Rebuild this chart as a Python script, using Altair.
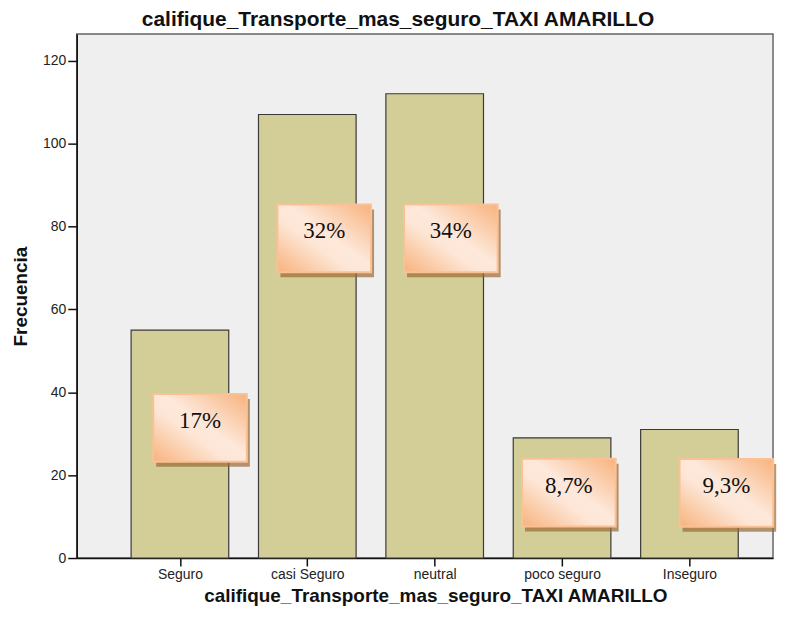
import altair as alt
import pandas as pd

categorias = ["Seguro", "casi Seguro", "neutral", "poco seguro", "Inseguro"]
posiciones = [1, 2, 3, 4, 5]
frecuencias = [55, 107, 112, 29, 31]
porcentajes = ["17%", "32%", "34%", "8,7%", "9,3%"]
etiqueta_x = [1.158, 2.133, 3.127, 4.053, 5.290]
etiqueta_y = [31.4, 77.1, 77.1, 15.8, 15.7]

titulo = "califique_Transporte_mas_seguro_TAXI AMARILLO"

df = pd.DataFrame({
    "cat": categorias,
    "pos": posiciones,
    "freq": frecuencias,
    "pct": porcentajes,
    "lx": etiqueta_x,
    "ly": etiqueta_y,
})

label_expr = "[" + ",".join("'" + c + "'" for c in categorias) + "][datum.value - 1]"

xscale = alt.Scale(domain=[0.229, 5.617], nice=False, zero=False)
yscale = alt.Scale(domain=[0, 126.4], nice=False)

base = alt.Chart(df)

bars = base.mark_bar(orient="vertical", width=98, color="#d3ce97",
                     stroke="#3a3a3a", strokeWidth=1.2).encode(
    x=alt.X("pos:Q", scale=xscale,
            axis=alt.Axis(values=posiciones, labelExpr=label_expr,
                          title=titulo, titleX=360)),
    y=alt.Y("freq:Q", scale=yscale,
            axis=alt.Axis(values=[0, 20, 40, 60, 80, 100, 120], title="Frecuencia")),
)

shadow = base.mark_rect(width=94, height=68, color="#9a6a34", opacity=0.7,
                        xOffset=3, yOffset=5).encode(
    x=alt.X("lx:Q", scale=xscale),
    y=alt.Y("ly:Q", scale=yscale),
)

grad = alt.LinearGradient(
    gradient="linear",
    stops=[
        alt.GradientStop(color="#f8b27c", offset=0),
        alt.GradientStop(color="#fde8da", offset=0.45),
        alt.GradientStop(color="#fde6d6", offset=0.6),
        alt.GradientStop(color="#f8b27c", offset=1),
    ],
    x1=1, y1=0, x2=0, y2=1,
)

boxes = base.mark_rect(width=94, height=68, fill=grad, stroke="#f9c195",
                       strokeWidth=2).encode(
    x=alt.X("lx:Q", scale=xscale),
    y=alt.Y("ly:Q", scale=yscale),
)

texts = base.mark_text(font="Liberation Serif", fontSize=23, color="#111111",
                       dy=-7).encode(
    x=alt.X("lx:Q", scale=xscale),
    y=alt.Y("ly:Q", scale=yscale),
    text="pct:N",
)

chart = alt.layer(bars, shadow, boxes, texts).properties(
    width=699,
    height=526,
    padding={"left": 3, "top": 0, "right": 0, "bottom": 0},
    title=alt.TitleParams(titulo, font="Liberation Sans", fontSize=21,
                          fontWeight="bold", color="#111111", dx=-27, offset=4),
).configure_view(
    fill="#efefef", stroke="#666666", strokeWidth=1.5,
).configure_axis(
    domainColor="#111111", domainWidth=1.5, tickColor="#111111", tickWidth=1.5,
    grid=False, labelFont="Liberation Sans", labelFontSize=14,
    labelColor="#222222", titleFont="Liberation Sans", titleFontSize=19,
    titleFontWeight="bold", titleColor="#111111",
).configure_axisX(
    labelPadding=2, titlePadding=5, tickSize=8,
).configure_axisY(
    titlePadding=12, labelPadding=2, tickSize=9,
)

chart.save("out.html", embed_options={"renderer": "svg", "actions": False})
